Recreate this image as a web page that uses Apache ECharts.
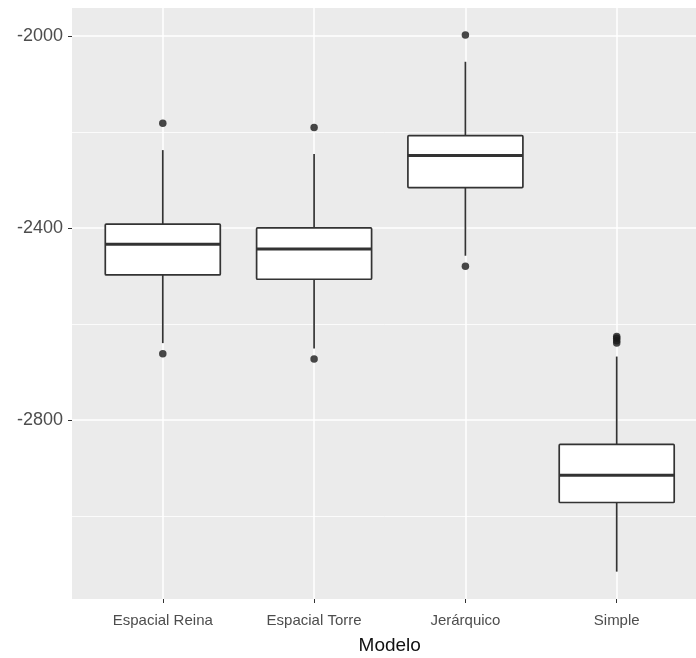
<!DOCTYPE html>
<html>
<head>
<meta charset="utf-8">
<script src="https://cdn.jsdelivr.net/npm/echarts@6/dist/echarts.min.js"></script>
<style>
  html, body { margin: 0; padding: 0; background: #fff; }
  #chart { width: 696px; height: 658px; }
</style>
</head>
<body>
<div id="chart"></div>
<script>
// boxplot stats per model
const categories = ['Espacial Reina', 'Espacial Torre', 'Jerárquico', 'Simple']
const whiskerLow = [-2640, -2651, -2458, -3116]
const q1 = [-2498, -2507, -2316, -2972]
const median = [-2434, -2444, -2249, -2915]
const q3 = [-2392, -2400, -2208, -2851]
const whiskerHigh = [-2238, -2246, -2054, -2668]
// outliers as [category number, value]
const outliers = [
  [1, -2182], [1, -2662],
  [2, -2191], [2, -2673],
  [3, -1998], [3, -2480],
  [4, -2626], [4, -2630], [4, -2635], [4, -2640]
]
const majorBreaks = [-2800, -2400, -2000]
const minorBreaks = [-3000, -2600, -2200]
const catPositions = [1, 2, 3, 4]

const boxData = categories.map((c, i) => [i + 1, whiskerLow[i], q1[i], median[i], q3[i], whiskerHigh[i]])

const chart = echarts.init(document.getElementById('chart'))

const fontFamily = 'Liberation Sans, Arial, sans-serif'
const yMin = -3173
const yMax = -1942

function renderBox(params, api) {
  const x = api.value(0)
  const low = api.coord([x, api.value(1)])
  const lo = api.coord([x, api.value(2)])
  const mid = api.coord([x, api.value(3)])
  const hi = api.coord([x, api.value(4)])
  const high = api.coord([x, api.value(5)])
  const halfW = api.size([0.76, 0])[0] / 2
  const stroke = '#333333'
  return {
    type: 'group',
    children: [
      { type: 'line', shape: { x1: high[0], y1: high[1], x2: hi[0], y2: hi[1] }, style: { stroke, lineWidth: 1.7 } },
      { type: 'line', shape: { x1: lo[0], y1: lo[1], x2: low[0], y2: low[1] }, style: { stroke, lineWidth: 1.7 } },
      { type: 'rect', shape: { x: hi[0] - halfW, y: hi[1], width: halfW * 2, height: lo[1] - hi[1], r: 1 }, style: { fill: '#fff', stroke, lineWidth: 1.7 } },
      { type: 'line', shape: { x1: mid[0] - halfW, y1: mid[1], x2: mid[0] + halfW, y2: mid[1] }, style: { stroke, lineWidth: 3 } }
    ]
  }
}

chart.setOption({
  animation: false,
  grid: {
    left: 72,
    right: -11.5,
    top: 8,
    bottom: 59,
    outerBoundsMode: 'none',
    show: true,
    backgroundColor: '#EBEBEB',
    borderWidth: 0
  },
  xAxis: {
    type: 'value',
    min: 0.4,
    max: 4.6,
    name: 'Modelo',
    nameLocation: 'middle',
    nameGap: 37,
    nameTextStyle: { color: '#111', fontSize: 19, fontFamily },
    axisLine: { show: false },
    axisTick: { show: true, length: 4, customValues: catPositions, lineStyle: { color: '#333', width: 1 } },
    axisLabel: {
      customValues: catPositions,
      margin: 14,
      color: '#4D4D4D',
      fontSize: 15,
      fontFamily,
      formatter: v => categories[Math.round(v) - 1]
    },
    splitLine: { show: true, lineStyle: { color: '#fff', width: 1.5 } }
  },
  yAxis: [
    {
      type: 'value',
      min: yMin,
      max: yMax,
      axisLine: { show: false },
      axisTick: { show: true, length: 4, customValues: majorBreaks, lineStyle: { color: '#333', width: 1 } },
      axisLabel: { customValues: majorBreaks, margin: 9, color: '#4D4D4D', fontSize: 18, fontFamily, formatter: v => String(v) },
      splitLine: { show: true, lineStyle: { color: '#fff', width: 1.6 } }
    },
    {
      type: 'value',
      min: yMin,
      max: yMax,
      position: 'left',
      axisLine: { show: false },
      axisTick: { show: false, customValues: minorBreaks },
      axisLabel: { show: false, customValues: minorBreaks },
      splitLine: { show: true, lineStyle: { color: '#fff', width: 0.8 } }
    }
  ],
  series: [
    {
      type: 'custom',
      renderItem: renderBox,
      data: boxData,
      encode: { x: 0, y: [1, 2, 3, 4, 5] },
      z: 3
    },
    {
      type: 'scatter',
      data: outliers,
      symbolSize: 7.5,
      itemStyle: { color: '#1a1a1a' },
      z: 4
    }
  ]
})
</script>
</body>
</html>
